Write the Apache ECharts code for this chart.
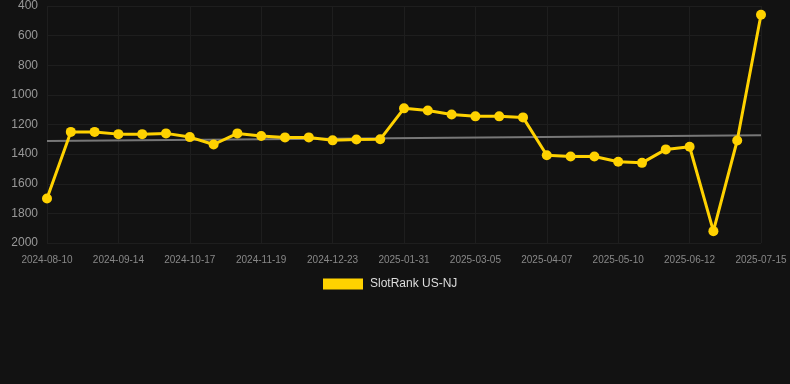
<!DOCTYPE html>
<html><head><meta charset="utf-8">
<script src="https://cdn.jsdelivr.net/npm/echarts@6/dist/echarts.min.js"></script>
<style>html,body{margin:0;padding:0;background:#121212}#c{width:790px;height:384px}</style>
</head><body><div id="c"></div>
<script>
const dates = ['2024-08-10','2024-08-21','2024-09-03','2024-09-14','2024-09-25','2024-10-06','2024-10-17','2024-10-28','2024-11-08','2024-11-19','2024-11-30','2024-12-12','2024-12-23','2025-01-05','2025-01-18','2025-01-31','2025-02-11','2025-02-22','2025-03-05','2025-03-16','2025-03-27','2025-04-07','2025-04-18','2025-04-29','2025-05-10','2025-05-21','2025-06-01','2025-06-12','2025-06-23','2025-07-04','2025-07-15'];
const ranks = [1700,1250,1250,1265,1265,1260,1285,1335,1260,1278,1287,1287,1307,1301,1300,1091,1105,1132,1145,1145,1152,1408,1416,1416,1452,1459,1368,1350,1920,1308,459];
const trendStart = 1312;
const trendEnd = 1272;
const yTicks = [400,600,800,1000,1200,1400,1600,1800,2000];
const seriesName = 'SlotRank US-NJ';

const trend = dates.map((d,i)=> i===0 ? trendStart : (i===dates.length-1 ? trendEnd : null));

const chart = echarts.init(document.getElementById('c'), null, {renderer:'canvas'});
chart.setOption({
  backgroundColor:'#121212',
  animation:false,
  grid:{left:47,right:29,top:6,bottom:141},
  legend:{
    data:[{name:seriesName, icon:'rect'}],
    top:273, left:318,
    itemWidth:40, itemHeight:11, itemGap:10,
    textStyle:{color:'#dddddd', fontSize:12, padding:[0,0,0,2], fontFamily:'Liberation Sans, Arial, sans-serif'}
  },
  xAxis:{
    type:'category', data:dates, boundaryGap:false,
    axisLine:{show:false}, axisTick:{show:false},
    axisLabel:{color:'#888', fontSize:10, interval:2, margin:12, fontFamily:'Liberation Sans, Arial, sans-serif'},
    splitLine:{show:true, interval:2, lineStyle:{color:'#1e1e1e', width:1}}
  },
  yAxis:{
    type:'value', inverse:true, min:yTicks[0], max:yTicks[yTicks.length-1], interval:200,
    axisLine:{show:false}, axisTick:{show:false},
    axisLabel:{color:'#999', fontSize:12, margin:9, formatter:(v)=>String(v), fontFamily:'Liberation Sans, Arial, sans-serif'},
    splitLine:{show:true, lineStyle:{color:'#1e1e1e', width:1}}
  },
  series:[
    {name:'trend', type:'line', data:trend, connectNulls:true, symbol:'none',
     lineStyle:{color:'#777', width:2}, itemStyle:{color:'#777'}, z:1, silent:true},
    {name:seriesName, type:'line', data:ranks, symbol:'circle', symbolSize:10,
     lineStyle:{color:'#FFD200', width:3}, itemStyle:{color:'#FFD200'}, z:3}
  ]
});
</script></body></html>
